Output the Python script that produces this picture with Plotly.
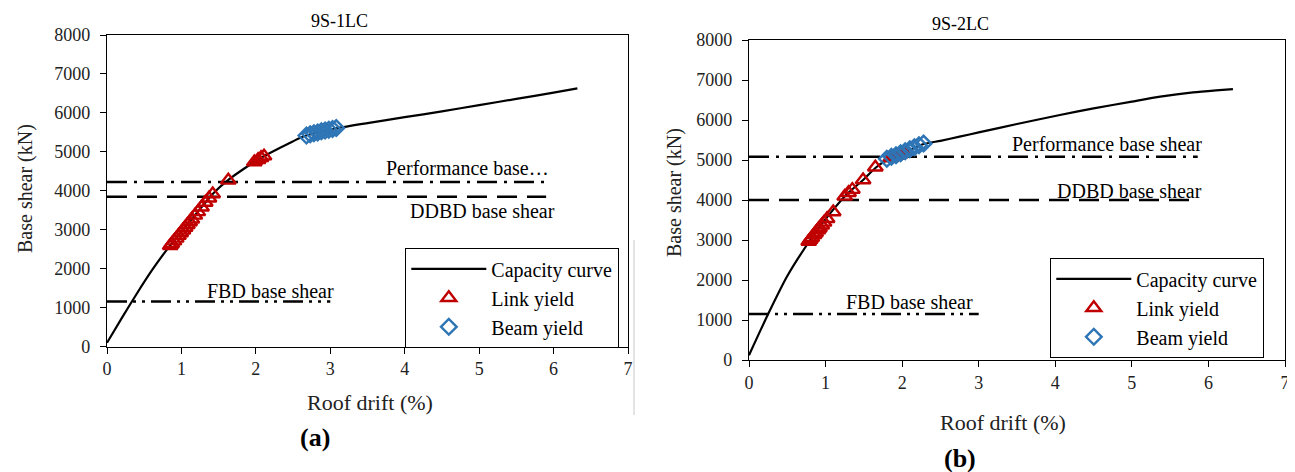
import plotly.graph_objects as go

# page body adds an 8px margin, so the figure is 8px smaller than the window
OFF = 8
W, H = 1295 - OFF, 472 - OFF

# ---------------- data: panel (a) 9S-1LC ----------------
cap_a_x = [0, 0.2, 0.4, 0.6, 0.8, 1.0, 1.2, 1.43, 1.63, 1.85, 2.06, 2.3, 2.63, 2.85, 3.1,
           3.5, 4.0, 4.5, 5.0, 5.5, 6.0, 6.32]
cap_a_y = [100, 740, 1360, 1950, 2480, 2950, 3420, 3940, 4280, 4580, 4836, 5080, 5390, 5510, 5613,
           5740, 5890, 6040, 6200, 6360, 6520, 6632]
link_a_x = [0.85, 0.87, 0.90, 0.93, 0.96, 0.99, 1.02, 1.05, 1.08, 1.11, 1.14, 1.18, 1.22, 1.27,
            1.32, 1.37, 1.42, 1.63, 1.98, 2.03, 2.07, 2.11]
link_a_y = [2590, 2640, 2710, 2780, 2850, 2920, 2990, 3060, 3130, 3200, 3270, 3370, 3460, 3580,
            3700, 3810, 3920, 4270, 4740, 4800, 4850, 4890]
beam_a_x = [2.68, 2.73, 2.78, 2.83, 2.88, 2.93, 2.98, 3.03, 3.08]
beam_a_y = [5420, 5450, 5480, 5500, 5530, 5550, 5570, 5590, 5610]
perf_a, ddbd_a, fbd_a = 4230, 3850, 1160
design_end_a = 5.9
fbd_end_a = 3.0

# ---------------- data: panel (b) 9S-2LC ----------------
cap_b_x = [0, 0.25, 0.5, 0.8, 1.0, 1.1, 1.28, 1.49, 1.65, 1.80, 1.93, 2.1, 2.28, 2.5, 2.75,
           3.0, 3.5, 4.06, 4.5, 5.0, 5.37, 5.8, 6.1, 6.32]
cap_b_y = [120, 1150, 2100, 3000, 3520, 3760, 4150, 4500, 4800, 5000, 5110, 5250, 5400, 5480, 5583,
           5690, 5900, 6125, 6290, 6460, 6583, 6690, 6740, 6770]
link_b_x = [0.78, 0.80, 0.82, 0.85, 0.87, 0.90, 0.92, 0.95, 0.98, 1.02, 1.10, 1.25, 1.30, 1.35,
            1.49, 1.65, 1.85, 1.90, 1.93, 1.97, 2.02]
link_b_y = [2960, 3010, 3060, 3130, 3180, 3250, 3300, 3370, 3440, 3530, 3700, 4090, 4180, 4260,
            4500, 4820, 5050, 5090, 5110, 5140, 5180]
beam_b_x = [1.80, 1.86, 1.92, 1.98, 2.04, 2.10, 2.16, 2.22, 2.28]
beam_b_y = [5030, 5080, 5120, 5170, 5220, 5270, 5320, 5370, 5410]
perf_b, ddbd_b, fbd_b = 5080, 4000, 1150
design_end_b = 5.86
fbd_end_b = 3.0

x_ticks = [0, 1, 2, 3, 4, 5, 6, 7]
y_ticks = [0, 1000, 2000, 3000, 4000, 5000, 6000, 7000, 8000]

FONT = "Liberation Serif, Times New Roman, serif"
RED = "#C00000"
BLUE = "#2E75B6"


def px(x):
    return (x - OFF) / W


def py(y):
    return 1 - (y - OFF) / H


fig = go.Figure()

panels = [
    dict(xa="x", ya="y", legend="legend", cx=cap_a_x, cy=cap_a_y, lx=link_a_x, ly=link_a_y,
         bx=beam_a_x, by=beam_a_y, perf=perf_a, ddbd=ddbd_a, fbd=fbd_a, dend=design_end_a, fend=fbd_end_a),
    dict(xa="x2", ya="y2", legend="legend2", cx=cap_b_x, cy=cap_b_y, lx=link_b_x, ly=link_b_y,
         bx=beam_b_x, by=beam_b_y, perf=perf_b, ddbd=ddbd_b, fbd=fbd_b, dend=design_end_b, fend=fbd_end_b),
]

for p in panels:
    fig.add_trace(go.Scatter(x=[0, p["dend"]], y=[p["perf"], p["perf"]], mode="lines",
                             line=dict(color="black", width=2.5, dash="20px,7px,3px,7px"),
                             xaxis=p["xa"], yaxis=p["ya"], showlegend=False, hoverinfo="skip"))
    fig.add_trace(go.Scatter(x=[0, p["dend"]], y=[p["ddbd"], p["ddbd"]], mode="lines",
                             line=dict(color="black", width=2.5, dash="20px,10px"),
                             xaxis=p["xa"], yaxis=p["ya"], showlegend=False, hoverinfo="skip"))
    fig.add_trace(go.Scatter(x=[0, p["fend"]], y=[p["fbd"], p["fbd"]], mode="lines",
                             line=dict(color="black", width=2.5, dash="20px,6px,3px,6px,3px,6px"),
                             xaxis=p["xa"], yaxis=p["ya"], showlegend=False, hoverinfo="skip"))
    fig.add_trace(go.Scatter(x=p["cx"], y=p["cy"], mode="lines", name="Capacity curve",
                             line=dict(color="black", width=2.2, shape="spline", smoothing=0.6),
                             xaxis=p["xa"], yaxis=p["ya"], legend=p["legend"]))
    fig.add_trace(go.Scatter(x=p["lx"], y=p["ly"], mode="markers", name="Link yield",
                             marker=dict(symbol="triangle-up-open", size=13, color=RED,
                                         line=dict(width=2.4, color=RED)),
                             xaxis=p["xa"], yaxis=p["ya"], legend=p["legend"]))
    fig.add_trace(go.Scatter(x=p["bx"], y=p["by"], mode="markers", name="Beam yield",
                             marker=dict(symbol="diamond-open", size=12, color=BLUE,
                                         line=dict(width=2.4, color=BLUE)),
                             xaxis=p["xa"], yaxis=p["ya"], legend=p["legend"]))

axis_common = dict(showline=True, linecolor="black", linewidth=1.3, mirror=True, ticks="outside",
                   ticklen=6, tickwidth=1.3, tickcolor="black", showgrid=False, zeroline=False,
                   automargin=False, tickfont=dict(family=FONT, size=18, color="#222"))

legend_common = dict(xanchor="left", yanchor="top", bgcolor="white", bordercolor="black",
                     borderwidth=1.3, font=dict(family=FONT, size=20, color="black"),
                     itemwidth=75, tracegroupgap=0)

fig.update_layout(
    width=W, height=H, margin=dict(l=0, r=0, t=0, b=0, autoexpand=False),
    font=dict(family=FONT),
    paper_bgcolor="white", plot_bgcolor="white",
    xaxis=dict(domain=[px(107), px(628)], range=[0, 7], tickvals=x_ticks, anchor="y",
               ticklabelstandoff=0, **axis_common),
    yaxis=dict(domain=[py(346.7), py(35)], range=[0, 8000], tickvals=y_ticks, anchor="x",
               ticklabelstandoff=6, **axis_common),
    xaxis2=dict(domain=[px(749), px(1285)], range=[0, 7], tickvals=x_ticks, anchor="y2",
                ticklabelstandoff=0, **axis_common),
    yaxis2=dict(domain=[py(360), py(40)], range=[0, 8000], tickvals=y_ticks, anchor="x2",
                ticklabelstandoff=6, **axis_common),
    legend=dict(x=px(405), y=py(248), **legend_common),
    legend2=dict(x=px(1050), y=py(258), **legend_common),
    showlegend=True,
)

C = dict(xanchor="center", yanchor="middle", showarrow=False)
ann = []
txt = dict(family=FONT, size=20, color="black")
ann.append(dict(x=4.85, y=4580, xref="x", yref="y", text="Performance base…", font=txt, **C))
ann.append(dict(x=5.05, y=3480, xref="x", yref="y", text="DDBD base shear", font=txt, **C))
ann.append(dict(x=2.19, y=1440, xref="x", yref="y", text="FBD base shear", font=txt, **C))
ann.append(dict(x=4.67, y=5400, xref="x2", yref="y2", text="Performance base shear", font=txt, **C))
ann.append(dict(x=4.97, y=4230, xref="x2", yref="y2", text="DDBD base shear", font=txt, **C))
ann.append(dict(x=2.1, y=1460, xref="x2", yref="y2", text="FBD base shear", font=txt, **C))
ann.append(dict(x=px(339), y=py(21), xref="paper", yref="paper", text="9S-1LC",
                font=dict(family=FONT, size=18, color="black"), **C))
ann.append(dict(x=px(960), y=py(24), xref="paper", yref="paper", text="9S-2LC",
                font=dict(family=FONT, size=18, color="black"), **C))
ann.append(dict(x=px(25), y=py(189), xref="paper", yref="paper", text="Base shear (kN)", textangle=-90,
                font=dict(family=FONT, size=20, color="#222"), **C))
ann.append(dict(x=px(674), y=py(193), xref="paper", yref="paper", text="Base shear (kN)", textangle=-90,
                font=dict(family=FONT, size=20, color="#222"), **C))
ann.append(dict(x=px(370), y=py(402), xref="paper", yref="paper", text="Roof drift (%)",
                font=dict(family=FONT, size=22, color="#222"), **C))
ann.append(dict(x=px(1003), y=py(422), xref="paper", yref="paper", text="Roof drift (%)",
                font=dict(family=FONT, size=22, color="#222"), **C))
ann.append(dict(x=px(315), y=py(437), xref="paper", yref="paper", text="<b>(a)</b>",
                font=dict(family=FONT, size=26, color="black"), **C))
ann.append(dict(x=px(960), y=py(458), xref="paper", yref="paper", text="<b>(b)</b>",
                font=dict(family=FONT, size=26, color="black"), **C))
fig.update_layout(annotations=ann)

fig.add_shape(type="line", xref="paper", yref="paper", x0=px(5.5), x1=px(5.5), y0=py(8), y1=py(415),
              line=dict(color="#c8c8c8", width=1))
fig.add_shape(type="line", xref="paper", yref="paper", x0=px(634), x1=px(634), y0=py(240), y1=py(415),
              line=dict(color="#c8c8c8", width=1))

fig.write_html("out.html")
